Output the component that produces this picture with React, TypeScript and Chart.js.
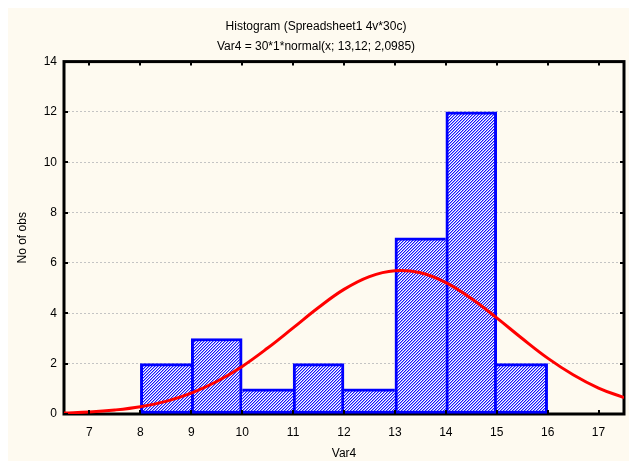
import React, { useEffect, useRef } from "react";
import { Chart, registerables } from "chart.js";

Chart.register(...registerables);

const titleLines = ["Histogram (Spreadsheet1 4v*30c)", "Var4 = 30*1*normal(x; 13,12; 2,0985)"];
const xTitle = "Var4";
const yTitle = "No of obs";

const binStarts = [8, 9, 10, 11, 12, 13, 14, 15];
const counts = [2, 3, 1, 2, 1, 7, 12, 2];

const xTickValues = [7, 8, 9, 10, 11, 12, 13, 14, 15, 16, 17];
const yTickValues = [0, 2, 4, 6, 8, 10, 12, 14];

const curveX = [6.5, 7, 7.5, 8, 8.5, 9, 9.5, 10, 10.5, 11, 11.5, 12, 12.5, 13, 13.5, 14, 14.5, 15, 15.5, 16, 16.5, 17, 17.5];
const curveY = [0.04, 0.08, 0.16, 0.29, 0.5, 0.83, 1.29, 1.89, 2.62, 3.42, 4.23, 4.95, 5.46, 5.69, 5.61, 5.22, 4.59, 3.82, 3.0, 2.22, 1.56, 1.03, 0.65];

const X_MIN = 6.5;
const X_MAX = 17.5;
const Y_MIN = 0;
const Y_MAX = 14;

const FONT = "'Liberation Sans', Arial, sans-serif";

function makePattern(): CanvasPattern | string {
  const c = document.createElement("canvas");
  const p = 3;
  c.width = p;
  c.height = p;
  const g = c.getContext("2d");
  if (!g) return "#8080ff";
  g.fillStyle = "#ffffff";
  g.fillRect(0, 0, p, p);
  for (let x = 0; x < p; x++) {
    for (let y = 0; y < p; y++) {
      const m = (x + y) % p;
      if (m === 0) {
        g.fillStyle = "#1414ff";
        g.fillRect(x, y, 1, 1);
      } else if (m === 1) {
        g.fillStyle = "#9a9aff";
        g.fillRect(x, y, 1, 1);
      }
    }
  }
  const pat = g.createPattern(c, "repeat");
  return pat || "#8080ff";
}

const framePlugin = {
  id: "frame",
  beforeDatasetsDraw(chart: any) {
    const { ctx, chartArea } = chart;
    ctx.save();
    ctx.strokeStyle = "#000";
    ctx.lineWidth = 3;
    ctx.strokeRect(chartArea.left, chartArea.top, chartArea.right - chartArea.left, chartArea.bottom - chartArea.top);
    ctx.restore();
  },
  afterDatasetsDraw(chart: any) {
    const { ctx, chartArea, scales } = chart;
    const len = 4;
    ctx.save();
    ctx.strokeStyle = "#000";
    ctx.lineWidth = 2;
    ctx.beginPath();
    scales.x.ticks.forEach((t: any) => {
      const px = Math.round(scales.x.getPixelForValue(t.value));
      ctx.moveTo(px, chartArea.bottom);
      ctx.lineTo(px, chartArea.bottom - len);
      ctx.moveTo(px, chartArea.top);
      ctx.lineTo(px, chartArea.top + len);
    });
    scales.y.ticks.forEach((t: any) => {
      const py = Math.round(scales.y.getPixelForValue(t.value));
      ctx.moveTo(chartArea.left, py);
      ctx.lineTo(chartArea.left + len, py);
      ctx.moveTo(chartArea.right, py);
      ctx.lineTo(chartArea.right - len, py);
    });
    ctx.stroke();
    ctx.restore();
  },
};

export default function App() {
  const ref = useRef<HTMLCanvasElement | null>(null);

  useEffect(() => {
    if (!ref.current) return;
    const pattern = makePattern();
    const last = counts.length - 1;
    const chart = new Chart(ref.current, {
      type: "bar",
      data: {
        datasets: [
          {
            type: "line",
            data: curveX.map((x, i) => ({ x, y: curveY[i] })),
            borderColor: "#ff0000",
            borderWidth: 3,
            pointRadius: 0,
            tension: 0.4,
            fill: false,
            order: 0,
          } as any,
          {
            type: "bar",
            data: binStarts.map((s, i) => ({ x: s + 0.5, y: counts[i] })),
            backgroundColor: pattern as any,
            borderColor: "#0000ff",
            borderSkipped: false,
            borderWidth: (c: any) => {
              const i = c.dataIndex;
              return {
                top: 3,
                bottom: 3,
                left: i === 0 || counts[i] > counts[i - 1] ? 3 : 0,
                right: i === last || counts[i] >= counts[i + 1] ? 3 : 0,
              };
            },
            barPercentage: 1,
            categoryPercentage: 1,
            order: 1,
          } as any,
        ],
      },
      options: {
        animation: false,
        responsive: false,
        maintainAspectRatio: false,
        layout: { padding: { left: 0, right: 5, top: 0, bottom: 0 } },
        plugins: {
          legend: { display: false },
          tooltip: { enabled: false },
          title: {
            display: true,
            text: titleLines,
            color: "#000",
            font: { family: FONT, size: 12, weight: "normal", lineHeight: 1.65 },
            padding: { top: 9, bottom: 5 },
          },
        },
        scales: {
          x: {
            type: "linear",
            min: X_MIN,
            max: X_MAX,
            offset: false,
            grid: { display: false, drawTicks: false },
            border: { display: false },
            afterBuildTicks: (s: any) => {
              s.ticks = xTickValues.map((v) => ({ value: v }));
            },
            ticks: {
              padding: 11,
              color: "#000",
              font: { family: FONT, size: 12 },
              maxRotation: 0,
              autoSkip: false,
            },
            title: {
              display: true,
              text: xTitle,
              color: "#000",
              font: { family: FONT, size: 12, lineHeight: 1.2 },
              padding: { top: 0, bottom: 0 },
            },
            afterFit: (s: any) => {
              s.height = 47;
            },
          },
          y: {
            type: "linear",
            min: Y_MIN,
            max: Y_MAX,
            grid: { color: "#c4c4c4", lineWidth: 1, drawTicks: false },
            border: { display: false, dash: [2, 2] },
            afterBuildTicks: (s: any) => {
              s.ticks = yTickValues.map((v) => ({ value: v }));
            },
            ticks: {
              padding: 7,
              color: "#000",
              font: { family: FONT, size: 12 },
            },
            title: {
              display: true,
              text: yTitle,
              color: "#000",
              font: { family: FONT, size: 12, lineHeight: 1.2 },
              padding: { top: 7, bottom: 0 },
            },
            afterFit: (s: any) => {
              s.width = 56;
            },
          },
        },
      },
      plugins: [framePlugin],
    });
    return () => chart.destroy();
  }, []);

  return (
    <div
      style={{
        position: "fixed",
        left: 8,
        top: 8,
        width: 621,
        height: 453,
        background: "#fefaf0",
      }}
    >
      <canvas ref={ref} width={621} height={453} style={{ display: "block" }} />
    </div>
  );
}
